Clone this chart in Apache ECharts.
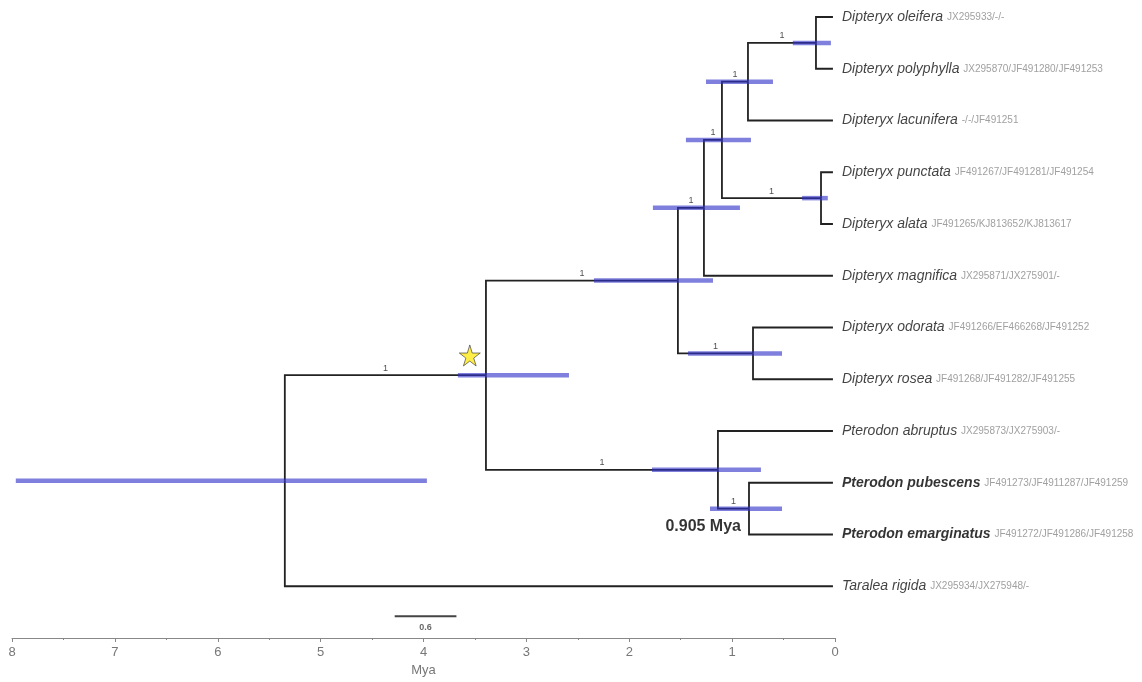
<!DOCTYPE html>
<html>
<head>
<meta charset="utf-8">
<script src="https://cdn.jsdelivr.net/npm/echarts@6/dist/echarts.min.js"></script>
<style>
html, body { margin: 0; background: #fff; }
#tree { width: 1142px; height: 682px; }
</style>
</head>
<body>
<div id="tree"></div>
<script>
// tips, top to bottom
var tipNames = ['Dipteryx oleifera', 'Dipteryx polyphylla', 'Dipteryx lacunifera', 'Dipteryx punctata',
    'Dipteryx alata', 'Dipteryx magnifica', 'Dipteryx odorata', 'Dipteryx rosea',
    'Pterodon abruptus', 'Pterodon pubescens', 'Pterodon emarginatus', 'Taralea rigida'];
var tipAccessions = ['JX295933/-/-', 'JX295870/JF491280/JF491253', '-/-/JF491251', 'JF491267/JF491281/JF491254',
    'JF491265/KJ813652/KJ813617', 'JX295871/JX275901/-', 'JF491266/EF466268/JF491252', 'JF491268/JF491282/JF491255',
    'JX295873/JX275903/-', 'JF491273/JF4911287/JF491259', 'JF491272/JF491286/JF491258', 'JX295934/JX275948/-'];
var tipBold = [0, 0, 0, 0, 0, 0, 0, 0, 0, 1, 1, 0];
var tipAge = 0.02;

// internal nodes (ages in Mya), 95% HPD and posterior
var nodeIds = ['olpo', 'lac', 'pual', 'n722', 'n704', 'odro', 'dip', 'pepe', 'pter', 'ingroup', 'root'];
var nodeKids = [['t0', 't1'], ['olpo', 't2'], ['t3', 't4'], ['lac', 'pual'], ['n722', 't5'], ['t6', 't7'],
    ['n704', 'odro'], ['t9', 't10'], ['t8', 'pepe'], ['dip', 'pter'], ['ingroup', 't11']];
var nodeAge = [0.185, 0.846, 0.136, 1.099, 1.274, 0.797, 1.527, 0.836, 1.138, 3.393, 5.348];
var hpdYoung = [0.04, 0.603, 0.07, 0.817, 0.924, 0.515, 1.186, 0.515, 0.72, 2.586, 3.967];
var hpdOld = [0.41, 1.254, 0.32, 1.449, 1.77, 1.429, 2.343, 1.215, 1.779, 3.666, 7.963];
var posterior = ['1', '1', '1', '1', '1', '1', '1', '1', '1', '1', ''];

// annotations
var starAt = [3.55, 6.54];
var calloutNode = 'pepe';
var calloutText = '0.905 Mya';
var scaleBar = [4.28, 3.68, 11.58];
var scaleText = '0.6';

var yOf = {}, ageOf = {}, parentOf = {};
tipNames.forEach(function (n, i) { yOf['t' + i] = i; ageOf['t' + i] = tipAge; });
function place(id) {
    if (yOf[id] !== undefined) return yOf[id];
    var k = nodeIds.indexOf(id);
    var kids = nodeKids[k];
    kids.forEach(function (c) { parentOf[c] = id; });
    yOf[id] = (place(kids[0]) + place(kids[1])) / 2;
    ageOf[id] = nodeAge[k];
    return yOf[id];
}
place('root');

var edges = [], hpd = [], postLabels = [];
nodeIds.forEach(function (id, k) {
    nodeKids[k].forEach(function (c) {
        edges.push([nodeAge[k], yOf[id], ageOf[c], yOf[c]]);
    });
    hpd.push([hpdOld[k], yOf[id], hpdYoung[k]]);
    if (parentOf[id] && posterior[k]) {
        postLabels.push([(ageOf[parentOf[id]] + nodeAge[k]) / 2, yOf[id], posterior[k]]);
    }
});

var tips = tipNames.map(function (n, i) {
    return { value: [tipAge, i], name: n, acc: tipAccessions[i], bold: tipBold[i] };
});

var chart = echarts.init(document.getElementById('tree'));
var option = {
    animation: false,
    textStyle: { fontFamily: 'Liberation Sans, Arial, sans-serif' },
    grid: { left: 12, right: 307, top: 17, bottom: 44 },
    xAxis: {
        type: 'value', inverse: true, min: 0, max: 8, interval: 1, position: 'bottom',
        name: 'Mya', nameLocation: 'middle', nameGap: 26,
        nameTextStyle: { color: '#777', fontSize: 13 },
        axisLine: { onZero: false, lineStyle: { color: '#888', width: 1 } },
        axisTick: { length: 4, lineStyle: { color: '#888' } },
        minorTick: { show: true, splitNumber: 2, length: 2, lineStyle: { color: '#888' } },
        axisLabel: { color: '#777', fontSize: 13, margin: 8 },
        splitLine: { show: false }
    },
    yAxis: { type: 'value', inverse: true, min: 0, max: 12, show: false },
    series: [
        {
            type: 'custom', name: 'branches', z: 1, clip: false, data: edges,
            renderItem: function (params, api) {
                var p1 = api.coord([api.value(0), api.value(1)]);
                var p2 = api.coord([api.value(0), api.value(3)]);
                var p3 = api.coord([api.value(2), api.value(3)]);
                return { type: 'polyline', shape: { points: [p1, p2, p3] },
                    style: { stroke: '#222', lineWidth: 1.8, fill: null } };
            }
        },
        {
            type: 'custom', name: 'hpd', z: 2, clip: false, data: hpd,
            renderItem: function (params, api) {
                var a = api.coord([api.value(0), api.value(1)]);
                var b = api.coord([api.value(2), api.value(1)]);
                return { type: 'line', shape: { x1: a[0], y1: a[1], x2: b[0], y2: b[1] },
                    style: { stroke: 'rgba(48,48,200,0.62)', lineWidth: 4.5 } };
            }
        },
        {
            type: 'custom', name: 'scale', z: 2, clip: false, data: [scaleBar],
            renderItem: function (params, api) {
                var a = api.coord([api.value(0), api.value(2)]);
                var b = api.coord([api.value(1), api.value(2)]);
                return { type: 'line', shape: { x1: a[0], y1: a[1], x2: b[0], y2: b[1] },
                    style: { stroke: '#444', lineWidth: 2 } };
            }
        },
        {
            type: 'scatter', name: 'scaleLabel', symbolSize: 0, z: 3, silent: true,
            data: [[(scaleBar[0] + scaleBar[1]) / 2, scaleBar[2], scaleText]],
            label: { show: true, position: 'inside', offset: [0, 11], formatter: function (p) { return p.value[2]; },
                color: '#444', fontSize: 9, fontWeight: 'bold' }
        },
        {
            type: 'scatter', name: 'tips', symbolSize: 0, z: 3, silent: true, data: tips,
            label: {
                show: true, position: 'right', distance: 9,
                formatter: function (p) {
                    var t = p.data.bold ? 'b' : 'n';
                    return '{' + t + '|' + p.data.name + ' }{a|' + p.data.acc + '}';
                },
                rich: {
                    n: { fontSize: 14, fontStyle: 'italic', color: '#111', verticalAlign: 'middle' },
                    b: { fontSize: 14, fontStyle: 'italic', fontWeight: 'bold', color: '#000', verticalAlign: 'middle' },
                    a: { fontSize: 10, color: '#888', verticalAlign: 'middle' }
                }
            }
        },
        {
            type: 'scatter', name: 'posterior', symbolSize: 0, z: 3, silent: true, data: postLabels,
            label: { show: true, position: 'inside', offset: [0, -7], formatter: function (p) { return p.value[2]; },
                color: '#222', fontSize: 9 }
        },
        {
            type: 'scatter', name: 'star', z: 4, silent: true, data: [starAt],
            symbol: 'path://M50,0 L61,35 L98,35 L68,57 L79,91 L50,70 L21,91 L32,57 L2,35 L39,35 Z',
            symbolSize: 21,
            itemStyle: { color: '#FFE81A', borderColor: '#333', borderWidth: 0.8 }
        },
        {
            type: 'scatter', name: 'callout', symbolSize: 0, z: 4, silent: true,
            data: [[ageOf[calloutNode], yOf[calloutNode], calloutText]],
            label: { show: true, position: 'left', distance: 8, offset: [0, 18],
                formatter: function (p) { return p.value[2]; },
                color: '#000', fontSize: 16, fontWeight: 'bold' }
        }
    ]
};
chart.setOption(option);
</script>
</body>
</html>
